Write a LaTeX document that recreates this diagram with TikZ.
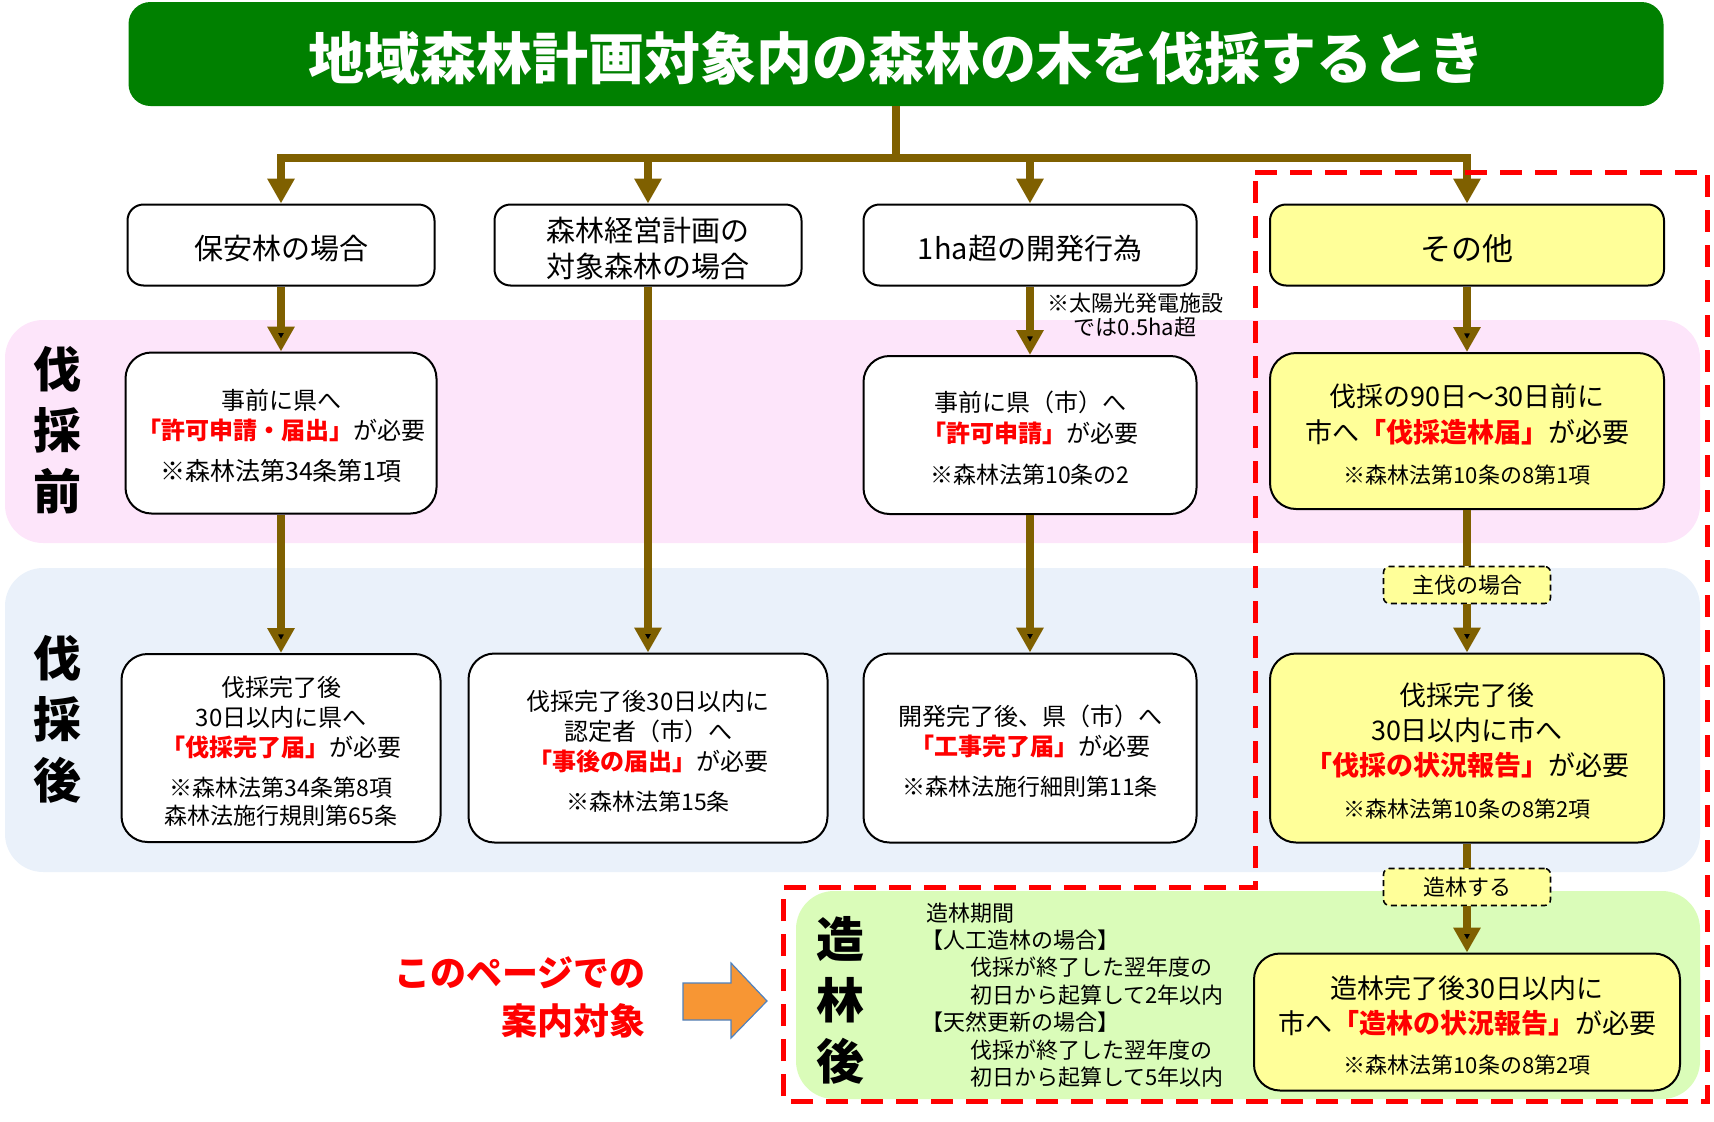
\documentclass[tikz,border=0pt]{standalone}
\usepackage{fontspec}
\setmainfont{Noto Sans CJK JP}
\usepackage{tikz}
\usetikzlibrary{arrows.meta}
\usetikzlibrary{positioning}

\definecolor{titlegreen}{RGB}{0,128,0}
\definecolor{flowbrown}{RGB}{127,96,0}
\definecolor{boxyellow}{RGB}{255,255,153}
\definecolor{bandpink}{RGB}{253,229,250}
\definecolor{bandblue}{RGB}{234,241,250}
\definecolor{bandgreen}{RGB}{218,252,185}
\definecolor{arroworange}{RGB}{247,150,52}
\definecolor{arrowblue}{RGB}{79,129,189}

\newcommand{\fsz}[2]{\fontsize{#1}{#2}\selectfont}
\newcommand{\redreq}[1]{\textcolor{red}{\bfseries #1}}
\newcommand{\lift}[1][1.1em]{\rule{0pt}{#1}}

\begin{document}
\begin{tikzpicture}[x=1pt,y=-1pt,>={Triangle[length=25pt,width=26pt]},
  box/.style={draw,line width=2pt,fill=white,rounded corners=26pt,align=center,inner sep=0pt},
  ybox/.style={box,fill=boxyellow},
  head/.style={box,rounded corners=16pt,minimum height=81pt,font=\fsz{29}{36}},
  tag/.style={draw,dash pattern=on 6pt off 4pt,line width=1.6pt,fill=boxyellow,rounded corners=6pt,minimum width=167pt,minimum height=37pt,font=\fsz{22}{26}},
  flow/.style={line width=8pt,draw=flowbrown},
  phase/.style={align=center,font=\bfseries\fsz{48}{61}}]
\useasboundingbox (0,0) rectangle (1714,1122);

% bands
\fill[bandpink,rounded corners=38pt] (5,320) rectangle (1700,543);
\fill[bandblue,rounded corners=38pt] (5,568) rectangle (1700,872);
\fill[bandgreen,rounded corners=38pt] (796,891) rectangle (1700,1099);

\node[fill=titlegreen,rounded corners=22pt,minimum width=1535pt,minimum height=104pt,text=white,font=\bfseries\fsz{56}{60}] (title) at (896,54) {\lift[1em]地域森林計画対象内の森林の木を伐採するとき};

\node[phase] (mae) at (57,430) {伐\\採\\前};
\node[phase] (ato) at (57,719) {伐\\採\\後};
\node[phase] (zorin) at (840,1000) {造\\林\\後};

% first row
\node[head,minimum width=307pt] (hoan) at (281,245) {\lift 保安林の場合};
\node[head,minimum width=307pt] (keiei) at (648,245) {\lift 森林経営計画の\\対象森林の場合};
\node[head,minimum width=333pt] (kaihatsu) at (1030,245) {\lift 1ha超の開発行為};
\node[head,fill=boxyellow,minimum width=394pt,font=\fsz{31}{36}] (sonota) at (1467,245) {\lift その他};

\node[align=center,font=\fsz{22}{24}] (taiyo) at (1135,315) {※太陽光発電施設\\では0.5ha超};

% before
\node[box,minimum width=311pt,minimum height=161pt,font=\fsz{24}{30}] (hoan2) at (281,433) {\lift 事前に県へ\\\redreq{「許可申請・届出」}が必要\\[11pt]\fsz{25}{30}※森林法第34条第1項};
\node[box,minimum width=333pt,minimum height=158pt,font=\fsz{24}{31}] (kaihatsu2) at (1030,435) {\lift 事前に県（市）へ\\\redreq{「許可申請」}が必要\\[10pt]\fsz{23}{30}※森林法第10条の2};
\node[ybox,minimum width=394pt,minimum height=156pt,font=\fsz{27}{36}] (sonota2) at (1467,431) {\lift 伐採の90日～30日前に\\市へ\redreq{「伐採造林届」}が必要\\[5pt]\fsz{22}{30}※森林法第10条の8第1項};

\node[tag] (shubatsu) at (1467,585) {主伐の場合};

% after
\node[box,minimum width=319pt,minimum height=188pt,font=\fsz{24}{30}] (hoan3) at (281,748) {\lift 伐採完了後\\30日以内に県へ\\\redreq{「伐採完了届」}が必要\\[10pt]\fsz{23}{28}※森林法第34条第8項\\[-2pt]\fsz{23}{28}森林法施行規則第65条};
\node[box,minimum width=359pt,minimum height=189pt,font=\fsz{24}{30}] (keiei3) at (648,748) {\lift 伐採完了後30日以内に\\認定者（市）へ\\\redreq{「事後の届出」}が必要\\[10pt]\fsz{23}{30}※森林法第15条};
\node[box,minimum width=333pt,minimum height=189pt,font=\fsz{24}{30}] (kaihatsu3) at (1030,748) {\lift 開発完了後、県（市）へ\\\redreq{「工事完了届」}が必要\\[10pt]\fsz{23}{30}※森林法施行細則第11条};
\node[ybox,minimum width=394pt,minimum height=189pt,font=\fsz{27}{35}] (sonota3) at (1467,748) {\lift 伐採完了後\\30日以内に市へ\\\redreq{「伐採の状況報告」}が必要\\[7pt]\fsz{22}{30}※森林法第10条の8第2項};

\node[tag] (zorinsuru) at (1467,887) {造林する};

% planting
\node[ybox,minimum width=426pt,minimum height=137pt,font=\fsz{27}{35}] (zorin2) at (1467,1022) {\lift 造林完了後30日以内に\\市へ\redreq{「造林の状況報告」}が必要\\[5pt]\fsz{22}{30}※森林法第10条の8第2項};

\node[anchor=west,align=left,inner sep=0pt,font=\fsz{22}{27.4}] (kikan) at (926,995) {造林期間\\\hspace*{-5pt}【人工造林の場合】\\\hspace*{44pt}伐採が終了した翌年度の\\\hspace*{44pt}初日から起算して2年以内\\\hspace*{-5pt}【天然更新の場合】\\\hspace*{44pt}伐採が終了した翌年度の\\\hspace*{44pt}初日から起算して5年以内};

\node[anchor=east,align=right,inner sep=0pt,text=red,font=\bfseries\fsz{36}{48}] (annai) at (646,997) {このページでの\\案内対象};
\draw[arrowblue,fill=arroworange,line width=1.2pt] (683,983) -- (731,983) -- (731,963) -- (767,1001) -- (731,1038) -- (731,1020) -- (683,1020) -- cycle;

% flow
\coordinate (split) at (896,158);
\draw[flow] (title.south) -- (split);
\draw[flow,->] (split) -| (hoan.north);
\draw[flow,->] (split) -| (keiei.north);
\draw[flow,->] (split) -| (kaihatsu.north);
\draw[flow,->] (split) -| (sonota.north);

\draw[flow,->] (hoan) edge (hoan2) (hoan2) edge (hoan3);
\draw[flow,->] (keiei) edge (keiei3);
\draw[flow,->] (kaihatsu) edge (kaihatsu2) (kaihatsu2) edge (kaihatsu3);
\draw[flow,->] (sonota) edge (sonota2);
\draw[flow] (sonota2) -- (shubatsu);
\draw[flow,->] (shubatsu) edge (sonota3);
\draw[flow] (sonota3) -- (zorinsuru);
\draw[flow,->] (zorinsuru) edge (zorin2);

% target area
\draw[red,line width=5pt,dash pattern=on 22pt off 13pt] (1255,172) -- (1707,172) -- (1707,1101) -- (783,1101) -- (783,887) -- (1255,887) -- cycle;

\end{tikzpicture}
\end{document}
